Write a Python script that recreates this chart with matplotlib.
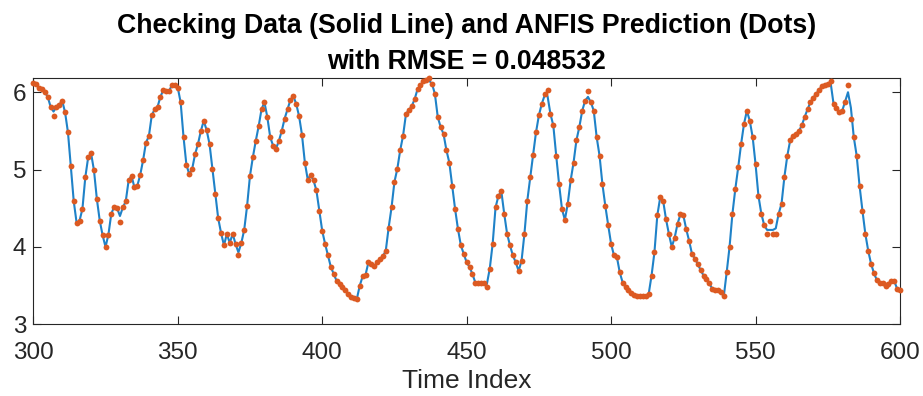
import matplotlib
matplotlib.use("Agg")
import matplotlib.pyplot as plt

plt.rcParams['font.family'] = ['Liberation Sans', 'DejaVu Sans']

time_index = list(range(300, 601))

anfis_prediction = [
    6.12, 6.10, 6.06, 6.04, 6.00, 5.94, 5.81, 5.69, 5.81, 5.84,
    5.89, 5.74, 5.48, 5.04, 4.59, 4.31, 4.34, 4.49, 4.90, 5.16,
    5.21, 4.99, 4.62, 4.34, 4.15, 4.00, 4.16, 4.43, 4.52, 4.50,
    4.32, 4.51, 4.59, 4.86, 4.92, 4.77, 4.79, 4.93, 5.12, 5.35,
    5.43, 5.70, 5.78, 5.81, 5.94, 6.03, 6.02, 6.02, 6.09, 6.09,
    6.06, 5.87, 5.42, 5.06, 4.94, 5.01, 5.20, 5.33, 5.50, 5.63,
    5.51, 5.33, 5.01, 4.69, 4.37, 4.18, 4.02, 4.17, 4.05, 4.17,
    4.04, 3.89, 4.05, 4.22, 4.53, 4.92, 5.16, 5.37, 5.56, 5.78,
    5.87, 5.68, 5.42, 5.31, 5.27, 5.37, 5.50, 5.66, 5.78, 5.90,
    5.95, 5.85, 5.69, 5.45, 5.09, 4.87, 4.93, 4.86, 4.73, 4.47,
    4.21, 4.04, 3.89, 3.74, 3.65, 3.56, 3.52, 3.48, 3.44, 3.39,
    3.35, 3.34, 3.33, 3.50, 3.62, 3.64, 3.80, 3.78, 3.75, 3.80,
    3.84, 3.88, 3.95, 4.25, 4.51, 4.84, 5.01, 5.25, 5.44, 5.72,
    5.77, 5.82, 5.91, 6.04, 6.09, 6.14, 6.16, 6.18, 6.11, 5.98,
    5.68, 5.55, 5.46, 5.25, 5.09, 4.79, 4.49, 4.23, 4.02, 3.91,
    3.80, 3.74, 3.65, 3.54, 3.53, 3.53, 3.54, 3.48, 3.72, 4.04,
    4.51, 4.66, 4.72, 4.43, 4.17, 4.02, 3.89, 3.80, 3.69, 3.82,
    4.17, 4.60, 4.90, 5.19, 5.48, 5.70, 5.85, 5.98, 6.03, 5.72,
    5.57, 5.18, 4.81, 4.49, 4.35, 4.56, 4.86, 5.09, 5.38, 5.55,
    5.76, 5.89, 6.02, 5.87, 5.76, 5.42, 5.18, 4.81, 4.53, 4.28,
    4.04, 3.89, 3.87, 3.67, 3.54, 3.48, 3.44, 3.41, 3.38, 3.37,
    3.37, 3.37, 3.37, 3.39, 3.63, 3.93, 4.41, 4.64, 4.60, 4.36,
    4.17, 4.00, 4.12, 4.30, 4.42, 4.41, 4.23, 4.08, 3.91, 3.85,
    3.78, 3.70, 3.63, 3.58, 3.53, 3.46, 3.44, 3.44, 3.42, 3.36,
    3.67, 4.00, 4.43, 4.75, 5.03, 5.33, 5.59, 5.76, 5.63, 5.42,
    5.07, 4.66, 4.43, 4.28, 4.17, 4.34, 4.17, 4.17, 4.43, 4.56,
    4.91, 5.18, 5.38, 5.44, 5.46, 5.50, 5.57, 5.68, 5.78, 5.87,
    5.93, 5.98, 6.03, 6.08, 6.09, 6.11, 6.14, 5.85, 5.80, 5.74,
    5.76, 5.88, 6.09, 5.66, 5.42, 5.18, 4.79, 4.47, 4.17, 3.95,
    3.78, 3.66, 3.57, 3.54, 3.53, 3.50, 3.52, 3.56, 3.56, 3.46,
    3.44,
]

checking_data = [
    6.12, 6.10, 6.06, 6.04, 6.00, 5.94, 5.81, 5.75, 5.81, 5.84,
    5.89, 5.74, 5.48, 5.04, 4.59, 4.31, 4.34, 4.49, 4.90, 5.16,
    5.21, 4.99, 4.62, 4.34, 4.15, 4.00, 4.16, 4.43, 4.52, 4.50,
    4.40, 4.51, 4.59, 4.86, 4.92, 4.77, 4.79, 4.93, 5.12, 5.35,
    5.43, 5.70, 5.78, 5.81, 5.94, 6.03, 6.02, 6.02, 6.09, 6.09,
    6.06, 5.87, 5.42, 5.06, 4.94, 5.01, 5.20, 5.33, 5.50, 5.63,
    5.51, 5.33, 5.01, 4.69, 4.37, 4.18, 4.02, 4.17, 4.05, 4.17,
    4.04, 3.93, 4.05, 4.22, 4.53, 4.92, 5.16, 5.37, 5.56, 5.78,
    5.87, 5.68, 5.42, 5.31, 5.27, 5.37, 5.50, 5.66, 5.78, 5.90,
    5.95, 5.85, 5.69, 5.45, 5.09, 4.87, 4.93, 4.86, 4.73, 4.47,
    4.21, 4.04, 3.89, 3.74, 3.65, 3.56, 3.52, 3.48, 3.44, 3.39,
    3.35, 3.34, 3.33, 3.50, 3.62, 3.64, 3.80, 3.78, 3.75, 3.80,
    3.84, 3.88, 3.95, 4.25, 4.51, 4.84, 5.01, 5.25, 5.44, 5.72,
    5.77, 5.82, 5.91, 6.04, 6.09, 6.14, 6.16, 6.15, 6.11, 5.98,
    5.68, 5.55, 5.46, 5.25, 5.09, 4.79, 4.49, 4.23, 4.02, 3.91,
    3.80, 3.74, 3.65, 3.54, 3.53, 3.53, 3.54, 3.52, 3.72, 4.04,
    4.51, 4.66, 4.72, 4.43, 4.17, 4.02, 3.89, 3.80, 3.69, 3.82,
    4.17, 4.60, 4.90, 5.19, 5.48, 5.70, 5.85, 5.96, 5.95, 5.72,
    5.57, 5.18, 4.81, 4.49, 4.35, 4.56, 4.86, 5.09, 5.38, 5.55,
    5.76, 5.89, 5.94, 5.87, 5.76, 5.42, 5.18, 4.81, 4.53, 4.28,
    4.04, 3.89, 3.87, 3.67, 3.54, 3.48, 3.44, 3.41, 3.38, 3.37,
    3.37, 3.37, 3.37, 3.39, 3.63, 3.93, 4.41, 4.64, 4.60, 4.36,
    4.17, 4.00, 4.12, 4.30, 4.42, 4.41, 4.23, 4.08, 3.91, 3.85,
    3.78, 3.70, 3.63, 3.58, 3.53, 3.46, 3.44, 3.44, 3.42, 3.36,
    3.67, 4.00, 4.43, 4.75, 5.03, 5.33, 5.59, 5.76, 5.63, 5.42,
    5.07, 4.66, 4.43, 4.28, 4.22, 4.22, 4.22, 4.24, 4.43, 4.56,
    4.91, 5.18, 5.38, 5.44, 5.46, 5.50, 5.57, 5.68, 5.78, 5.87,
    5.93, 5.98, 6.03, 6.08, 6.09, 6.11, 6.12, 5.85, 5.80, 5.74,
    5.76, 5.88, 6.00, 5.80, 5.42, 5.18, 4.79, 4.47, 4.17, 3.95,
    3.78, 3.66, 3.57, 3.54, 3.53, 3.50, 3.52, 3.56, 3.56, 3.46,
    3.44,
]

x_ticks = [300, 350, 400, 450, 500, 550, 600]
y_ticks = [3, 4, 5, 6]
rmse_value = 0.048532

W, H = 923, 396
fig = plt.figure(figsize=(W / 100, H / 100), dpi=100)
ax = fig.add_axes([33.3 / W, 1 - 324.3 / H, (900 - 33.3) / W, (324.3 - 78.3) / H])

ax.plot(time_index, checking_data, '-', color='#1F82C8', lw=1.5, zorder=2)
ax.plot(time_index, anfis_prediction, 'o', color='#DC5A22', ms=4.2, mew=0,
        zorder=3, clip_on=False)

ax.set_xlim(300, 600)
ax.set_ylim(3, 6.18)
ax.set_xticks(x_ticks)
ax.set_yticks(y_ticks)

axis_col = '#262626'
for s in ax.spines.values():
    s.set_color(axis_col)
    s.set_linewidth(0.8)
ax.tick_params(direction='in', length=5.5, width=0.8, color=axis_col,
               labelcolor=axis_col, labelsize=17.5, top=True, right=True)
ax.tick_params(axis='x', pad=13)
ax.tick_params(axis='y', pad=5)

ax.set_xlabel('Time Index', fontsize=19, color=axis_col, labelpad=3)
ax.set_title('Checking Data (Solid Line) and ANFIS Prediction (Dots)\n'
             f'with RMSE = {rmse_value}', fontsize=19.2, fontweight='bold',
             color='black', pad=7, linespacing=1.5)

fig.savefig('out.png', dpi=100)
